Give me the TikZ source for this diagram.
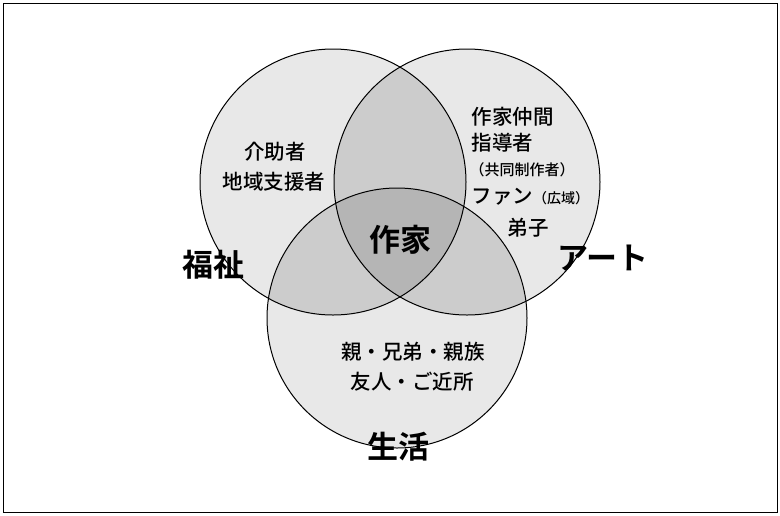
\documentclass[tikz,border=0pt]{standalone}
\usepackage{fontspec}
\setmainfont{Noto Sans CJK JP}
\newfontfamily\jpb{Noto Sans CJK JP Bold}
\newfontfamily\jpm{Noto Sans CJK JP Medium}
\begin{document}
\begin{tikzpicture}[x=1pt,y=-1pt,
  small/.style={font=\jpm\fontsize{20.5}{24}\selectfont},
  big/.style={font=\jpb\fontsize{31}{34}\selectfont}]
\useasboundingbox (0,0) rectangle (780,515);
\draw[line width=1pt] (3,3) rectangle (777,512);
\def\ca{(333,182) circle (133)}
\def\cb{(467,182) circle (133)}
\def\cc{(397,318) circle (130)}
\fill[gray!18] \ca; \fill[gray!18] \cb; \fill[gray!18] \cc;
\begin{scope}\clip \ca; \fill[gray!40] \cb; \fill[gray!40] \cc; \end{scope}
\begin{scope}\clip \cb; \fill[gray!40] \cc; \end{scope}
\begin{scope}\clip \ca; \clip \cb; \fill[gray!58] \cc; \end{scope}
\draw[line width=1pt] \ca; \draw[line width=1pt] \cb; \draw[line width=1pt] \cc;
\node[small] (a1) at (275,152) {介助者};
\node[small] (a2) at (274,182) {地域支援者};
\node[small,anchor=west] (b1) at (468,117) {作家仲間};
\node[small,anchor=west] (b2) at (468,143) {指導者};
\node[font=\jpm\fontsize{15}{17}\selectfont,anchor=west] (b3) at (466,170) {（共同制作者）};
\node[small,anchor=west] (b4) at (468,197) {ファン\fontsize{14}{16}\selectfont（広域）};
\node[small,anchor=west] (b5) at (504,228) {弟子};
\node[big] (c) at (400,240) {作家};
\node[big] (f) at (213,265) {福祉};
\node[big] (ar) at (603,258) {アート};
\node[big] (s) at (398,447) {生活};
\node[small] (l1) at (413,352) {親・兄弟・親族};
\node[small] (l2) at (412,382) {友人・ご近所};
\end{tikzpicture}
\end{document}
